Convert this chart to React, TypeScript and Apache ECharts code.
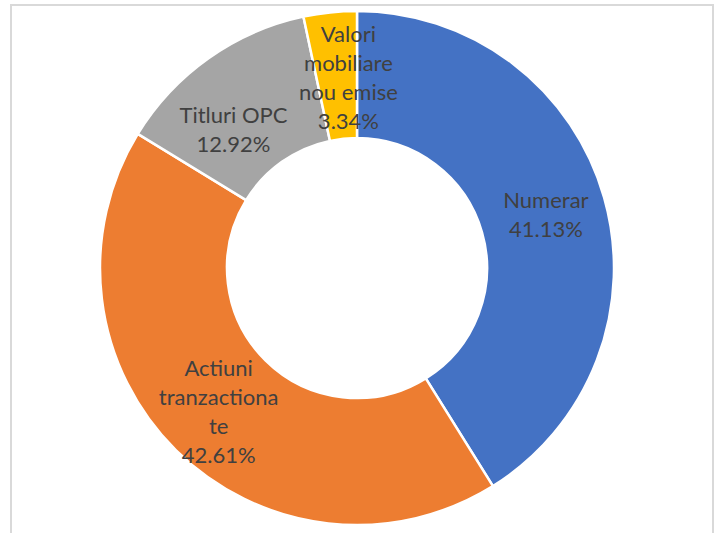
import React, { useEffect, useRef } from "react";
import * as echarts from "echarts";

const categories = ["Numerar", "Actiuni tranzactionate", "Titluri OPC", "Valori mobiliare nou emise"];
const labelTexts = ["Numerar", "Actiuni\ntranzactiona\nte", "Titluri OPC", "Valori\nmobiliare\nnou emise"];
const values = [41.13, 42.61, 12.92, 3.34];
const colors = ["#4472C4", "#ED7D31", "#A5A5A5", "#FFC000"];
const labelOffsets: [number, number][] = [[0, 0], [0, 3], [-10, 21], [12, 4]];

export default function App() {
  const ref = useRef<HTMLDivElement>(null);
  useEffect(() => {
    if (!ref.current) return;
    const chart = echarts.init(ref.current, undefined, { renderer: "svg" });
    chart.setOption({
      animation: false,
      backgroundColor: "#ffffff",
      graphic: [
        {
          type: "rect",
          shape: { x: 11, y: 5, width: 702, height: 600 },
          style: { fill: "none", stroke: "#d9d9d9", lineWidth: 2 },
          silent: true,
          z: -10,
        },
      ],
      series: [
        {
          type: "pie",
          center: [357, 268],
          radius: [130, 257],
          startAngle: 90,
          clockwise: true,
          avoidLabelOverlap: false,
          itemStyle: { borderColor: "#ffffff", borderWidth: 2.5 },
          label: {
            show: true,
            position: "inside",
            color: "#404040",
            fontFamily: "Lato",
            fontSize: 22,
            lineHeight: 29,
            align: "center",
          },
          labelLine: { show: false },
          emphasis: { disabled: true },
          data: categories.map((name, i) => ({
            name,
            value: values[i],
            itemStyle: { color: colors[i] },
            label: {
              formatter: labelTexts[i] + "\n" + values[i].toFixed(2) + "%",
              offset: labelOffsets[i],
            },
          })),
        },
      ],
    });
    return () => chart.dispose();
  }, []);
  return (
    <div
      ref={ref}
      style={{ position: "fixed", left: 0, top: 0, width: 719, height: 533 }}
    />
  );
}
